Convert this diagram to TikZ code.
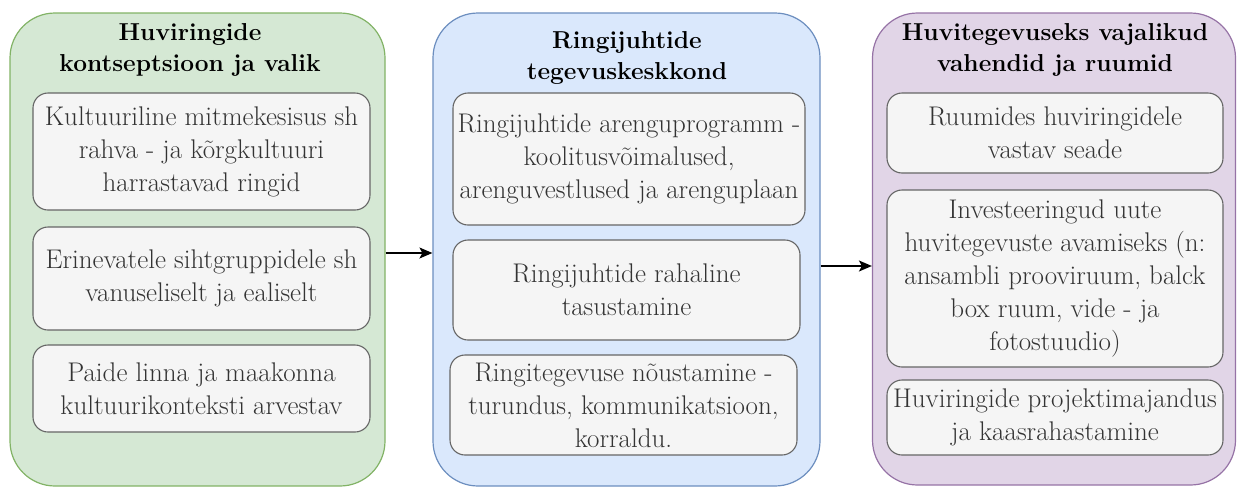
\documentclass[tikz,border=0pt]{standalone}
\usepackage{fontspec}
\usetikzlibrary{arrows.meta}
\definecolor{gfill}{HTML}{D5E8D4}\definecolor{gline}{HTML}{82B366}
\definecolor{bfill}{HTML}{DAE8FC}\definecolor{bline}{HTML}{6C8EBF}
\definecolor{pfill}{HTML}{E1D5E7}\definecolor{pline}{HTML}{9673A6}
\definecolor{ifill}{HTML}{F5F5F5}\definecolor{iline}{HTML}{666666}
\definecolor{itext}{HTML}{333333}
\tikzset{
  container/.style={draw, line width=1.2pt, rounded corners=45pt, inner sep=0pt},
  ctitle/.style={align=center, font=\fontsize{24.5}{31.5}\selectfont\bfseries, text=black, inner sep=0pt},
  itembox/.style={draw=iline, fill=ifill, line width=1.1pt, rounded corners=15pt, align=center,
    text=itext, font=\fontsize{27}{33}\selectfont, inner sep=0pt},
  conn/.style={line width=1.3pt, -{Stealth[length=13pt,width=11pt,inset=3pt]}}
}
\begin{document}
\begin{tikzpicture}[x=1pt,y=-1pt]
\useasboundingbox (0,0) rectangle (1237,488);
% containers
\node[container, draw=gline, fill=gfill, minimum width=375pt, minimum height=473pt] (L) at (197.5,249.5) {};
\node[container, draw=bline, fill=bfill, minimum width=387pt, minimum height=473pt] (M) at (626.5,249.5) {};
\node[container, draw=pline, fill=pfill, minimum width=363pt, minimum height=472pt] (R) at (1054,249) {};
% titles
\node[ctitle] (Lt) at (190,50) {Huviringide\\kontseptsioon ja valik};
\node[ctitle] (Mt) at (627,58) {Ringijuhtide\\tegevuskeskkond};
\node[ctitle] (Rt) at (1055,50) {Huvitegevuseks vajalikud\\vahendid ja ruumid};
% left items
\node[itembox, minimum width=337pt, minimum height=117pt] (L1) at (201.5,151.5) {Kultuuriline mitmekesisus sh\\rahva - ja kõrgkultuuri\\harrastavad ringid};
\node[itembox, minimum width=337pt, minimum height=103pt] (L2) at (201.5,278.5) {Erinevatele sihtgruppidele sh\\vanuseliselt ja ealiselt};
\node[itembox, minimum width=337pt, minimum height=87pt] (L3) at (201.5,388.5) {Paide linna ja maakonna\\kultuurikonteksti arvestav};
% middle items
\node[itembox, minimum width=352pt, minimum height=132pt] (M1) at (629,159) {Ringijuhtide arenguprogramm -\\koolitusvõimalused,\\arenguvestlused ja arenguplaan};
\node[itembox, minimum width=347pt, minimum height=100pt] (M2) at (626.5,290) {Ringijuhtide rahaline\\tasustamine};
\node[itembox, minimum width=347pt, minimum height=100pt] (M3) at (623.5,405) {Ringitegevuse nõustamine -\\turundus, kommunikatsioon,\\korraldu.};
% right items
\node[itembox, minimum width=336pt, minimum height=80pt] (R1) at (1055,133) {Ruumides huviringidele\\vastav seade};
\node[itembox, minimum width=336pt, minimum height=177pt] (R2) at (1055,278.5) {Investeeringud uute\\huvitegevuste avamiseks (n:\\ansambli prooviruum, balck\\box ruum, vide - ja\\fotostuudio)};
\node[itembox, minimum width=336pt, minimum height=75pt] (R3) at (1055,417.5) {Huviringide projektimajandus\\ja kaasrahastamine};
% connectors
\draw[conn] ([yshift=-3.5pt]L.east) -- ([yshift=-3.5pt]M.west);
\draw[conn] ([yshift=-16.5pt]M.east) -- ([yshift=-17pt]R.west);
\end{tikzpicture}
\end{document}
